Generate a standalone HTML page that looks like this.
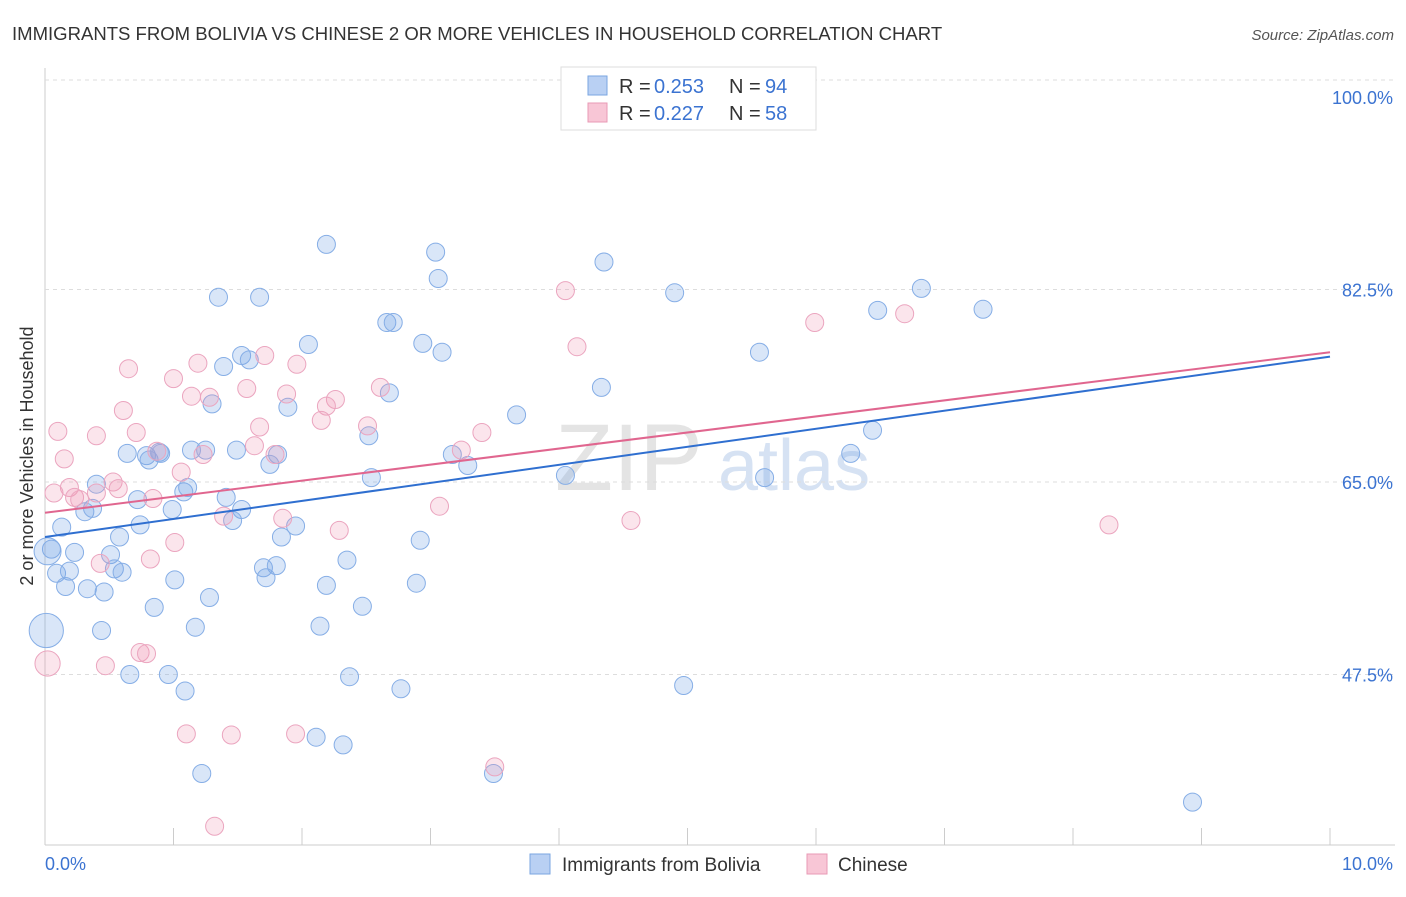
<!DOCTYPE html>
<html><head><meta charset="utf-8">
<style>
body{margin:0;background:#fff;font-family:"Liberation Sans",sans-serif;}
svg text{font-family:"Liberation Sans",sans-serif;}
</style></head>
<body>
<svg id="chart" width="1406" height="892" xmlns="http://www.w3.org/2000/svg">
<text x="12" y="40" font-size="18.55" fill="#333">IMMIGRANTS FROM BOLIVIA VS CHINESE 2 OR MORE VEHICLES IN HOUSEHOLD CORRELATION CHART</text>
<text x="1394" y="40" font-size="15" fill="#555" font-style="italic" text-anchor="end">Source: ZipAtlas.com</text>
<text transform="translate(33,456) rotate(-90)" font-size="18" fill="#333" text-anchor="middle">2 or more Vehicles in Household</text>
<g><text x="555" y="490" font-size="95" fill="#e4e4e4" font-family="Liberation Serif">ZIP</text><text x="718" y="490" font-size="72" fill="#d6e2f3">atlas</text></g>
<g id="grid"></g>
<g id="marks"></g>
<g>
<rect x="561" y="67" width="255" height="63" fill="#fff" stroke="#ddd"/>
<rect x="588" y="76" width="19" height="19" fill="#b9d0f3" stroke="#7aa6e0"/>
<text y="93" font-size="20" fill="#333"><tspan x="619">R = </tspan><tspan x="654" fill="#3b73d1">0.253</tspan><tspan x="729">N = </tspan><tspan x="765" fill="#3b73d1">94</tspan></text>
<rect x="588" y="103" width="19" height="19" fill="#f8c6d6" stroke="#e89ab5"/>
<text y="120" font-size="20" fill="#333"><tspan x="619">R = </tspan><tspan x="654" fill="#3b73d1">0.227</tspan><tspan x="729">N = </tspan><tspan x="765" fill="#3b73d1">58</tspan></text>
</g>
<g>
<rect x="530" y="854" width="20" height="20" fill="#b9d0f3" stroke="#7aa6e0"/>
<text x="562" y="871" font-size="19" fill="#333">Immigrants from Bolivia</text>
<rect x="807" y="854" width="20" height="20" fill="#f8c6d6" stroke="#e89ab5"/>
<text x="838" y="871" font-size="19" fill="#333">Chinese</text>
</g>
</svg>
<script>
const xTickLabels=["0.0%","10.0%"];
const yTicks=[47.5,65.0,82.5];
const yTickLabels=["47.5%","65.0%","82.5%","100.0%"];
const blueX=[2.19,3.04,4.35,3.06,1.35,1.67,4.90,6.82,6.48,7.30,2.66,2.71,2.05,2.94,3.09,1.53,1.59,1.39,5.56,4.33,2.68,1.30,1.89,3.67,6.44,2.52,0.64,0.79,0.81,0.89,0.90,1.14,1.25,1.49,1.81,1.75,3.17,3.29,2.54,4.05,5.60,6.27,0.40,1.08,1.11,0.72,1.41,1.53,0.99,0.31,0.37,0.13,0.74,1.46,1.95,1.84,0.58,0.05,0.23,0.51,0.54,0.60,0.09,0.19,1.70,1.80,1.72,2.35,2.92,1.01,2.19,2.89,0.16,0.33,0.46,1.28,0.85,2.47,0.44,1.17,2.14,0.66,0.96,2.37,1.09,2.77,4.97,2.11,2.32,1.22,3.49,8.93,0.02,0.01];
const blueY=[86.6,85.9,85.0,83.5,81.8,81.8,82.2,82.6,80.6,80.7,79.5,79.5,77.5,77.6,76.8,76.5,76.1,75.5,76.8,73.6,73.1,72.1,71.8,71.1,69.7,69.2,67.6,67.4,67.0,67.7,67.6,67.9,67.9,67.9,67.5,66.6,67.5,66.5,65.4,65.6,65.4,67.6,64.8,64.1,64.5,63.4,63.6,62.5,62.5,62.3,62.6,60.9,61.1,61.5,61.0,60.0,60.0,58.9,58.6,58.4,57.1,56.8,56.7,56.9,57.2,57.4,56.3,57.9,59.7,56.1,55.6,55.8,55.5,55.3,55.0,54.5,53.6,53.7,51.5,51.8,51.9,47.5,47.5,47.3,46.0,46.2,46.5,41.8,41.1,38.5,38.5,35.9,58.7,51.5];
const blueSize=blueX.map((v,i)=>i===blueX.length-2?1.5:(i===blueX.length-1?1.9:1));
const pinkX=[4.05,4.14,5.99,6.69,0.65,1.19,1.71,1.96,1.00,1.57,1.14,1.28,1.88,2.26,2.19,2.61,0.61,2.15,1.67,2.51,3.40,0.71,0.10,0.40,0.15,1.23,0.87,1.79,1.63,3.24,1.06,0.53,0.57,0.19,0.07,0.23,0.27,0.84,0.40,3.07,1.39,1.85,4.56,8.28,2.29,1.01,0.82,0.43,0.74,0.79,0.47,1.10,1.45,1.95,3.50,1.32,0.02];
const pinkY=[82.4,77.3,79.5,80.3,75.3,75.8,76.5,75.7,74.4,73.5,72.8,72.7,73.0,72.5,71.9,73.6,71.5,70.6,70.0,70.1,69.5,69.5,69.6,69.2,67.1,67.5,67.8,67.5,68.3,67.9,65.9,65.0,64.4,64.5,64.0,63.6,63.4,63.5,64.0,62.8,61.9,61.7,61.5,61.1,60.6,59.5,58.0,57.6,49.5,49.4,48.3,42.1,42.0,42.1,39.1,33.7,48.5];
const pinkSize=pinkX.map((v,i)=>i===pinkX.length-1?1.4:1);
const blueTrend=[60.0,76.4];
const pinkTrend=[62.2,76.8];

const NS="http://www.w3.org/2000/svg";
const X0=45,X1=1330;
function sx(v){return X0+(v/10)*(X1-X0);}
function sy(v){return 97+(100-v)*11.0;}
function mk(tag,attrs,parent){const e=document.createElementNS(NS,tag);for(const k in attrs)e.setAttribute(k,attrs[k]);parent.appendChild(e);return e;}
const grid=document.getElementById('grid');
const marks=document.getElementById('marks');
let ax=mk('line',{x1:45,y1:68,x2:45,y2:845,stroke:'#ccc'},grid);


let bx=mk('line',{x1:45,y1:845,x2:1395,y2:845,stroke:'#ccc'},grid);


mk('line',{x1:45,y1:80,x2:1395,y2:80,stroke:'#ddd','stroke-dasharray':'4,4'},grid);
for(let i=1;i<=10;i++){
  const t=mk('line',{x1:sx(i),y1:828,x2:sx(i),y2:845,stroke:'#ccc'},grid);
  
  
}
yTicks.forEach((v,i)=>{
  const g=mk('line',{x1:45,y1:sy(v),x2:1395,y2:sy(v),stroke:'#ddd','stroke-dasharray':'4,4'},grid);
  
  
});
[47.5,65.0,82.5,100.0].forEach((v,i)=>{
  const t=mk('text',{x:1393,y:sy(v)+7,'font-size':18,fill:'#3b73d1','text-anchor':'end'},grid);
  t.textContent=yTickLabels[i];
  
  
});
const xl0=mk('text',{x:45,y:870,'font-size':18,fill:'#3b73d1'},grid);xl0.textContent=xTickLabels[0];


const xl1=mk('text',{x:1393,y:870,'font-size':18,fill:'#3b73d1','text-anchor':'end'},grid);xl1.textContent=xTickLabels[1];



function dots(xs,ys,sz,fill,stroke,name){
  xs.forEach((v,i)=>{
    const c=mk('circle',{cx:sx(v),cy:sy(ys[i]),r:9*sz[i],fill:fill,stroke:stroke,'stroke-width':1},marks);
    
    
  });
}
dots(blueX,blueY,blueSize,'rgba(120,165,230,0.28)','#86aee6','bolivia-point');
dots(pinkX,pinkY,pinkSize,'rgba(240,150,180,0.25)','#eba5bf','chinese-point');
const bl=mk('line',{x1:sx(0),y1:sy(blueTrend[0]),x2:sx(10),y2:sy(blueTrend[1]),stroke:'#2f6fd0','stroke-width':2},marks);


const pl=mk('line',{x1:sx(0),y1:sy(pinkTrend[0]),x2:sx(10),y2:sy(pinkTrend[1]),stroke:'#e0668f','stroke-width':2},marks);


</script>
</body></html>
